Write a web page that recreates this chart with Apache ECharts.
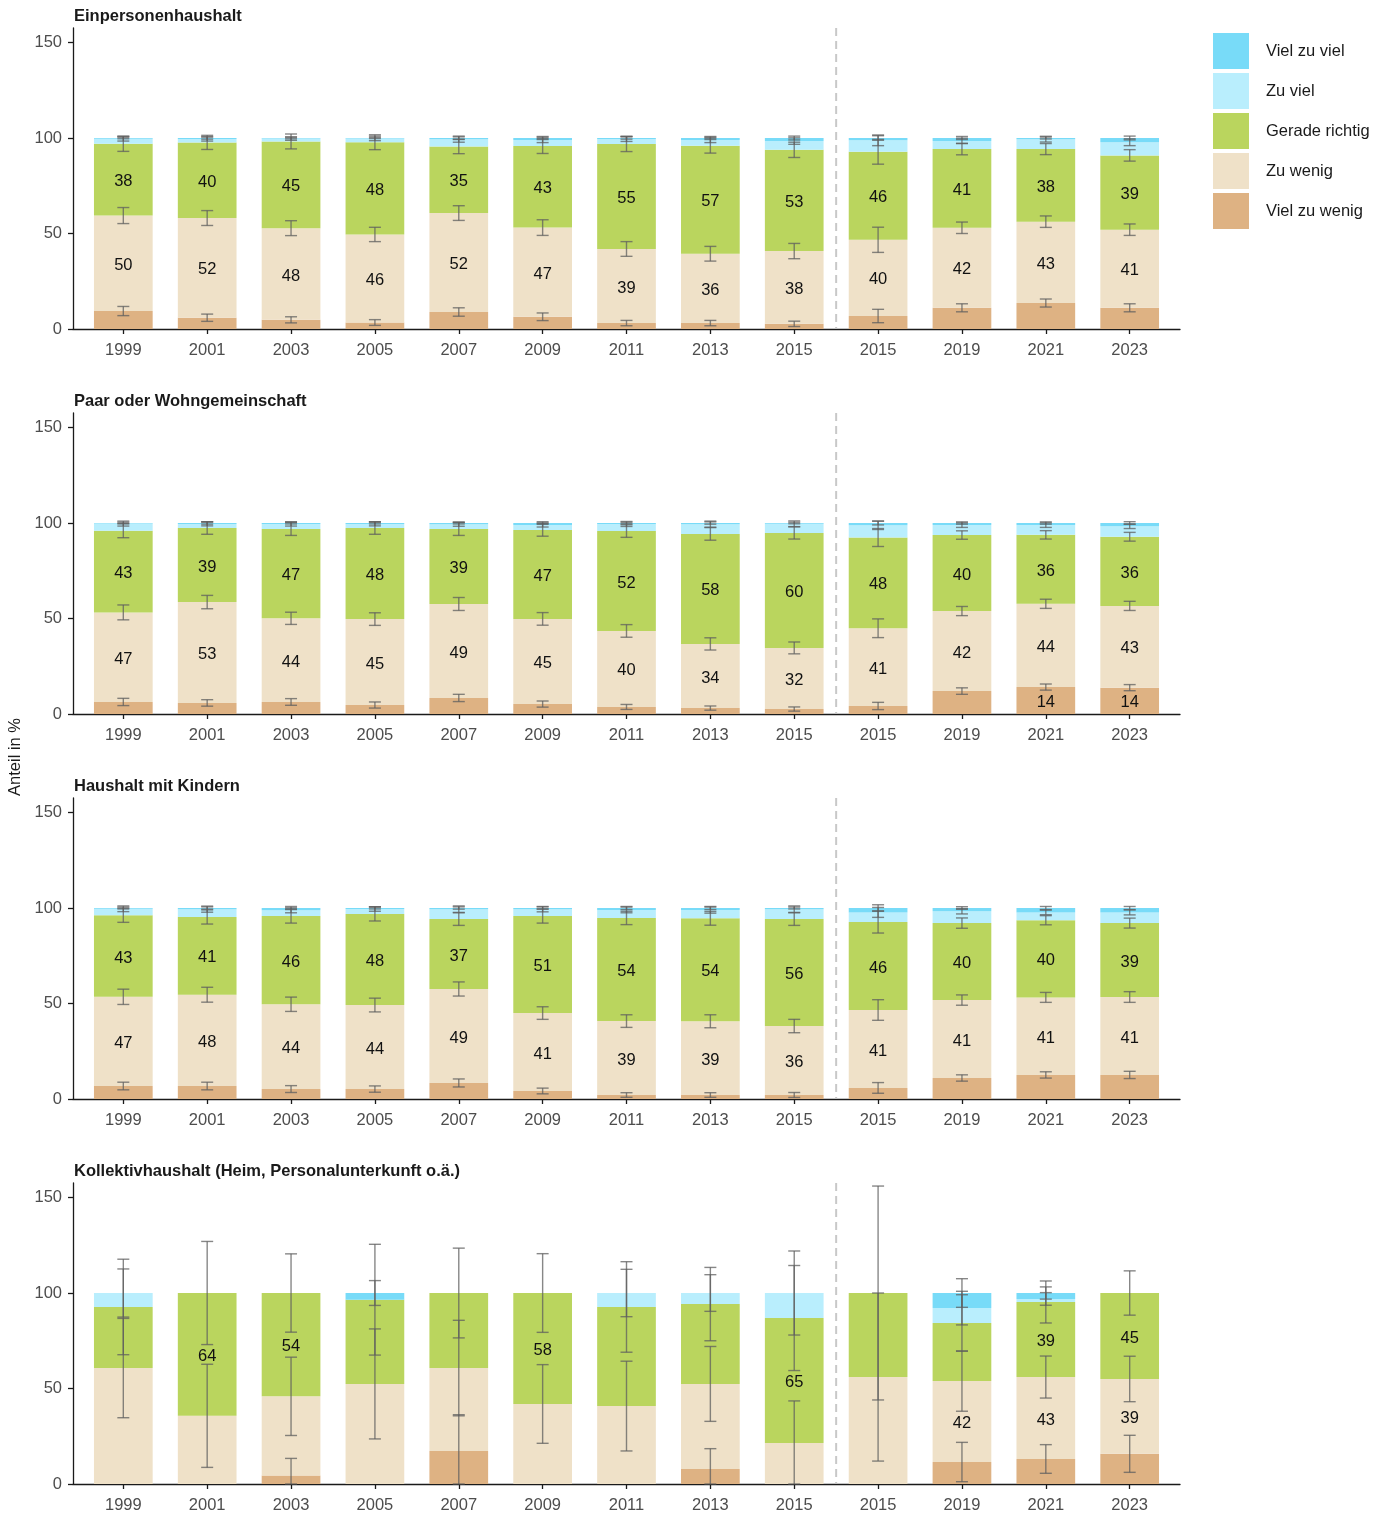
<!DOCTYPE html>
<html><head><meta charset="utf-8">
<script src="https://cdn.jsdelivr.net/npm/echarts@6/dist/echarts.min.js"></script>
<style>html,body{margin:0;padding:0;background:#fff}#c{width:1389px;height:1515px}</style>
</head><body><div id="c"></div>
<script>
// ---------- categories / labels ----------
const yearLabels = ['1999','2001','2003','2005','2007','2009','2011','2013','2015','2015','2019','2021','2023'];
const splitAfter = 9; // dashed separator after the 9th category
const panelTitles = ['Einpersonenhaushalt','Paar oder Wohngemeinschaft','Haushalt mit Kindern','Kollektivhaushalt (Heim, Personalunterkunft o.ä.)'];
const seriesNames = ['Viel zu wenig','Zu wenig','Gerade richtig','Zu viel','Viel zu viel'];
const seriesColors = ['#DEB283','#EFE1C8','#BAD55E','#B9EEFD','#78DBF8'];
const yTicks = [0, 50, 100, 150];

// ---------- Panel 1: Einpersonenhaushalt ----------
const p1VielZuWenig = [9.4, 5.9, 4.8, 3.4, 8.9, 6.4, 3.1, 3.1, 2.7, 6.8, 11.1, 13.6, 11.1];
const p1ZuWenig     = [50.0, 52.2, 48.0, 46.1, 51.8, 46.7, 38.8, 36.3, 38.1, 39.9, 41.9, 42.6, 40.9];
const p1Gerade      = [37.6, 39.6, 45.4, 48.3, 34.8, 42.7, 55.0, 56.6, 53.0, 46.1, 41.2, 38.0, 38.9];
const p1ZuViel      = [2.6, 1.8, 1.5, 2.0, 3.9, 3.2, 2.6, 3.0, 4.6, 6.0, 4.3, 5.2, 6.9];
const p1VielZuViel  = [0.4, 0.5, 0.3, 0.2, 0.6, 1.0, 0.5, 1.0, 1.6, 1.2, 1.5, 0.6, 2.2];
const p1ErrVZW = [2.4, 1.9, 1.6, 1.5, 2.2, 2.0, 1.4, 1.4, 1.4, 3.5, 2.1, 2.1, 2.1];
const p1ErrZW  = [4.2, 3.9, 3.9, 3.75, 3.85, 4.1, 3.85, 3.85, 4.0, 6.6, 3.0, 3.0, 3.0];
const p1ErrGR  = [4.0, 3.7, 3.9, 3.9, 3.7, 3.9, 4.0, 3.9, 4.0, 6.5, 3.0, 2.9, 3.0];
const p1ErrZV  = [1.2, 1.1, 0.9, 1.2, 1.6, 1.4, 1.3, 1.4, 1.7, 2.8, 1.4, 1.5, 1.8];
const p1ErrVZV = [0.4, 0.6, 0.4, 0.3, 0.6, 0.8, 0.6, 0.8, 1.0, 1.2, 0.8, 0.5, 1.0];
const p1ShowVZW = [0,0,0,0,0,0,0,0,0,0,0,0,0];
const p1ShowZW  = [1,1,1,1,1,1,1,1,1,1,1,1,1];
const p1ShowGR  = [1,1,1,1,1,1,1,1,1,1,1,1,1];

// ---------- Panel 2: Paar oder Wohngemeinschaft ----------
const p2VielZuWenig = [6.3, 5.8, 6.3, 4.7, 8.4, 5.2, 3.7, 3.1, 2.6, 4.2, 12.0, 14.1, 13.8];
const p2ZuWenig     = [46.9, 52.8, 43.8, 45.0, 49.2, 44.6, 39.8, 33.6, 32.0, 40.7, 41.9, 43.6, 42.8];
const p2Gerade      = [42.8, 38.8, 46.8, 47.7, 39.3, 46.6, 52.3, 57.6, 60.2, 47.5, 39.8, 36.1, 36.2];
const p2ZuViel      = [3.7, 2.1, 2.6, 2.1, 2.4, 2.6, 3.7, 5.1, 4.8, 6.4, 5.2, 5.1, 5.5];
const p2VielZuViel  = [0.3, 0.5, 0.5, 0.5, 0.7, 1.0, 0.5, 0.6, 0.4, 1.2, 1.1, 1.1, 1.7];
const p2ErrVZW = [1.9, 1.7, 1.75, 1.6, 1.9, 1.6, 1.3, 1.1, 1.1, 1.9, 1.7, 1.6, 1.6];
const p2ErrZW  = [3.9, 3.5, 3.2, 3.3, 3.4, 3.3, 3.3, 3.2, 3.1, 4.9, 2.4, 2.4, 2.4];
const p2ErrGR  = [3.7, 3.3, 3.4, 3.3, 3.4, 3.3, 3.3, 3.3, 3.2, 4.7, 2.2, 2.2, 2.3];
const p2ErrZV  = [1.3, 1.0, 1.1, 1.0, 1.0, 1.1, 1.3, 1.6, 1.5, 2.2, 1.2, 1.2, 1.2];
const p2ErrVZV = [0.4, 0.6, 0.5, 0.5, 0.5, 0.7, 0.4, 0.6, 0.4, 1.0, 0.6, 0.6, 0.7];
const p2ShowVZW = [0,0,0,0,0,0,0,0,0,0,0,1,1];
const p2ShowZW  = [1,1,1,1,1,1,1,1,1,1,1,1,1];
const p2ShowGR  = [1,1,1,1,1,1,1,1,1,1,1,1,1];

// ---------- Panel 3: Haushalt mit Kindern ----------
const p3VielZuWenig = [6.8, 6.8, 5.2, 5.2, 8.4, 4.2, 2.1, 2.1, 2.1, 5.8, 11.0, 12.6, 12.6];
const p3ZuWenig     = [46.7, 47.8, 44.4, 44.0, 49.2, 40.8, 38.7, 38.6, 36.1, 40.8, 40.8, 40.6, 40.8];
const p3Gerade      = [42.7, 40.7, 46.2, 47.7, 36.6, 50.8, 54.0, 53.9, 56.0, 46.1, 40.3, 40.4, 38.7];
const p3ZuViel      = [3.4, 4.1, 3.0, 2.6, 5.2, 3.6, 4.2, 4.3, 5.2, 5.0, 6.2, 4.1, 5.6];
const p3VielZuViel  = [0.4, 0.6, 1.2, 0.5, 0.6, 0.6, 1.0, 1.1, 0.6, 2.3, 1.7, 2.3, 2.3];
const p3ErrVZW = [2.0, 2.0, 1.8, 1.65, 2.1, 1.5, 1.2, 1.2, 1.3, 2.8, 1.65, 1.65, 1.9];
const p3ErrZW  = [4.0, 3.9, 3.75, 3.6, 3.7, 3.3, 3.3, 3.4, 3.5, 5.4, 2.7, 2.6, 2.8];
const p3ErrGR  = [3.7, 3.7, 3.7, 3.7, 3.3, 3.7, 3.5, 3.6, 3.3, 5.8, 2.7, 2.4, 2.6];
const p3ErrZV  = [1.5, 1.6, 1.3, 1.2, 1.7, 1.4, 1.5, 1.6, 1.7, 2.6, 1.4, 1.2, 1.3];
const p3ErrVZV = [0.5, 0.6, 0.8, 0.5, 0.6, 0.6, 0.8, 0.8, 0.5, 1.7, 0.7, 0.8, 0.8];
const p3ShowVZW = [0,0,0,0,0,0,0,0,0,0,0,0,0];
const p3ShowZW  = [1,1,1,1,1,1,1,1,1,1,1,1,1];
const p3ShowGR  = [1,1,1,1,1,1,1,1,1,1,1,1,1];

// ---------- Panel 4: Kollektivhaushalt ----------
const p4VielZuWenig = [0, 0, 4.4, 0, 17.3, 0, 0, 7.9, 0, 0, 11.5, 13.1, 15.8];
const p4ZuWenig     = [60.7, 35.7, 41.5, 52.4, 43.4, 41.9, 40.8, 44.5, 21.5, 56.0, 42.4, 42.9, 39.2];
const p4Gerade      = [32.0, 64.3, 54.1, 44.1, 39.3, 58.1, 51.9, 41.8, 65.4, 44.0, 30.4, 39.3, 45.0];
const p4ZuViel      = [7.3, 0, 0, 0, 0, 0, 7.3, 5.8, 13.1, 0, 7.8, 1.6, 0];
const p4VielZuViel  = [0, 0, 0, 3.5, 0, 0, 0, 0, 0, 0, 7.9, 3.1, 0];
const p4ErrVZW = [0, 0, 9, 0, 19, 0, 0, 10.6, 0, 0, 10.3, 7.5, 9.7];
const p4ErrZW  = [26, 27, 20.5, 28.8, 25, 20.6, 23.5, 19.6, 22, 44, 15.8, 11, 11.9];
const p4ErrGR  = [25, 27, 20.5, 29, 23.5, 20.6, 23.7, 19.2, 27.5, 56, 14.8, 11, 11.6];
const p4ErrZV  = [12.6, 0, 0, 0, 0, 0, 12.4, 9.6, 22, 0, 8.8, 3.3, 0];
const p4ErrVZV = [0, 0, 0, 6.5, 0, 0, 0, 0, 0, 0, 7.5, 3.2, 0];
const p4ShowVZW = [0,0,0,0,0,0,0,0,0,0,0,0,0];
const p4ShowZW  = [0,0,0,0,0,0,0,0,0,0,1,1,1];
const p4ShowGR  = [0,1,1,0,0,1,0,0,1,0,0,1,1];

const panels = [
  {vals:[p1VielZuWenig,p1ZuWenig,p1Gerade,p1ZuViel,p1VielZuViel], errs:[p1ErrVZW,p1ErrZW,p1ErrGR,p1ErrZV,p1ErrVZV], show:[p1ShowVZW,p1ShowZW,p1ShowGR,null,null]},
  {vals:[p2VielZuWenig,p2ZuWenig,p2Gerade,p2ZuViel,p2VielZuViel], errs:[p2ErrVZW,p2ErrZW,p2ErrGR,p2ErrZV,p2ErrVZV], show:[p2ShowVZW,p2ShowZW,p2ShowGR,null,null]},
  {vals:[p3VielZuWenig,p3ZuWenig,p3Gerade,p3ZuViel,p3VielZuViel], errs:[p3ErrVZW,p3ErrZW,p3ErrGR,p3ErrZV,p3ErrVZV], show:[p3ShowVZW,p3ShowZW,p3ShowGR,null,null]},
  {vals:[p4VielZuWenig,p4ZuWenig,p4Gerade,p4ZuViel,p4VielZuViel], errs:[p4ErrVZW,p4ErrZW,p4ErrGR,p4ErrZV,p4ErrVZV], show:[p4ShowVZW,p4ShowZW,p4ShowGR,null,null]}
];

// ---------- layout / style ----------
const FONT = '"Liberation Sans", Arial, Helvetica, sans-serif';
const FS = 16.5;
const Y_MAX = 157.6;
const PANEL_TOP = 28, PANEL_H = 301, PANEL_STEP = 385;
const AX_LEFT = 73, AX_WIDTH = 1107;
const nCat = yearLabels.length;
const EXPAND = 0.6;
const unit = AX_WIDTH / (nCat - 1 + 2 * EXPAND);
const BAND_LEFT = AX_LEFT + (EXPAND - 0.5) * unit;
const BAND_WIDTH = nCat * unit;
const AXIS_COLOR = '#1a1a1a';
const TEXT_COLOR = '#4d4d4d';

const grids = [], xAxes = [], yAxes = [], series = [], titles = [];

function errRender(params, api) {
  const i = api.value(0), lo = api.value(1), hi = api.value(2);
  const a = api.coord([i, hi]), b = api.coord([i, lo]);
  const w = 6;
  const st = {stroke: 'rgba(95,95,95,0.75)', lineWidth: 1.4};
  return {type: 'group', children: [
    {type: 'line', shape: {x1: a[0], y1: a[1], x2: b[0], y2: b[1]}, style: st},
    {type: 'line', shape: {x1: a[0] - w, y1: a[1], x2: a[0] + w, y2: a[1]}, style: st},
    {type: 'line', shape: {x1: b[0] - w, y1: b[1], x2: b[0] + w, y2: b[1]}, style: st}
  ]};
}

function sepRender(params, api) {
  const x = api.value(0);
  const a = api.coord([x, Y_MAX]), b = api.coord([x, 0]);
  return {type: 'line', shape: {x1: a[0], y1: a[1], x2: b[0], y2: b[1]},
    style: {stroke: '#c8c8c8', lineWidth: 2, lineDash: [8, 5]}};
}

panels.forEach((P, p) => {
  const top = PANEL_TOP + p * PANEL_STEP;
  const go = 2 * p, gi = 2 * p + 1;
  grids.push({left: AX_LEFT, width: AX_WIDTH, top: top, height: PANEL_H});
  grids.push({left: BAND_LEFT, width: BAND_WIDTH, top: top, height: PANEL_H});
  titles.push({text: panelTitles[p], left: 74, top: top - 20, padding: 0,
    textStyle: {fontSize: FS, fontWeight: 'bold', color: '#1a1a1a', fontFamily: FONT}});

  xAxes.push({gridIndex: go, type: 'value', min: 1 - EXPAND, max: nCat + EXPAND,
    axisLine: {show: true, lineStyle: {color: AXIS_COLOR, width: 1.3}},
    axisTick: {show: false}, axisLabel: {show: false}, splitLine: {show: false}});
  xAxes.push({gridIndex: gi, type: 'category', data: yearLabels.map((_, i) => String(i)),
    axisLine: {show: false},
    axisTick: {show: true, alignWithLabel: true, interval: 0, length: 5, lineStyle: {color: AXIS_COLOR, width: 1.3}},
    axisLabel: {interval: 0, formatter: (v, i) => yearLabels[i], fontSize: FS, color: TEXT_COLOR, margin: 13, fontFamily: FONT},
    splitLine: {show: false}});

  yAxes.push({gridIndex: go, type: 'value', min: 0, max: Y_MAX, interval: 50,
    axisLine: {show: true, lineStyle: {color: AXIS_COLOR, width: 1.3}},
    axisTick: {show: true, length: 5, lineStyle: {color: AXIS_COLOR, width: 1.3}},
    axisLabel: {fontSize: FS, color: TEXT_COLOR, margin: 11, fontFamily: FONT,
      formatter: v => yTicks.indexOf(v) >= 0 ? String(v) : '', showMaxLabel: false},
    splitLine: {show: false}});
  yAxes.push({gridIndex: gi, type: 'value', min: 0, max: Y_MAX, show: false, splitLine: {show: false}});

  // stacked bars
  P.vals.forEach((arr, k) => {
    const mask = P.show[k];
    series.push({
      type: 'bar', name: seriesNames[k], xAxisIndex: gi, yAxisIndex: gi, stack: 'st' + p,
      barWidth: '70%', data: arr, z: 2,
      itemStyle: {color: seriesColors[k]},
      emphasis: {disabled: true},
      label: {show: !!mask, position: 'inside', offset: [0, 2], fontSize: FS, color: '#111', fontFamily: FONT,
        formatter: prm => (mask && mask[prm.dataIndex]) ? String(Math.round(prm.value)) : ''}
    });
  });

  // error bars at the cumulative top of each segment
  const errData = [];
  for (let i = 0; i < nCat; i++) {
    let cum = 0;
    for (let k = 0; k < P.vals.length; k++) {
      cum += P.vals[k][i];
      const e = P.errs[k][i];
      if (e > 0 && P.vals[k][i] > 0) errData.push([i, Math.max(0, cum - e), cum + e]);
    }
  }
  series.push({type: 'custom', xAxisIndex: gi, yAxisIndex: gi, data: errData, z: 4, silent: true,
    renderItem: errRender, encode: {x: 0, y: [1, 2]}});

  // dashed separator
  series.push({type: 'custom', xAxisIndex: go, yAxisIndex: go, data: [[splitAfter + 0.5]], z: 1, silent: true,
    renderItem: sepRender, encode: {x: 0}});
});

const chart = echarts.init(document.getElementById('c'), null, {renderer: 'canvas'});
chart.setOption({
  animation: false,
  backgroundColor: '#ffffff',
  textStyle: {fontFamily: FONT},
  title: titles,
  grid: grids,
  xAxis: xAxes,
  yAxis: yAxes,
  legend: {
    orient: 'vertical', left: 1213, top: 33, padding: 0, itemWidth: 36, itemHeight: 36, itemGap: 4,
    icon: 'rect', selectedMode: false,
    data: seriesNames.slice().reverse(),
    textStyle: {fontSize: FS, color: '#1a1a1a', fontFamily: FONT, padding: [2, 0, 0, 12]}
  },
  graphic: [{type: 'text', x: 15, y: 757, rotation: Math.PI / 2,
    style: {text: 'Anteil in %', fontSize: FS, fill: '#1a1a1a', fontFamily: FONT, textAlign: 'center', textVerticalAlign: 'middle'}}],
  series: series
});
</script>
</body></html>
